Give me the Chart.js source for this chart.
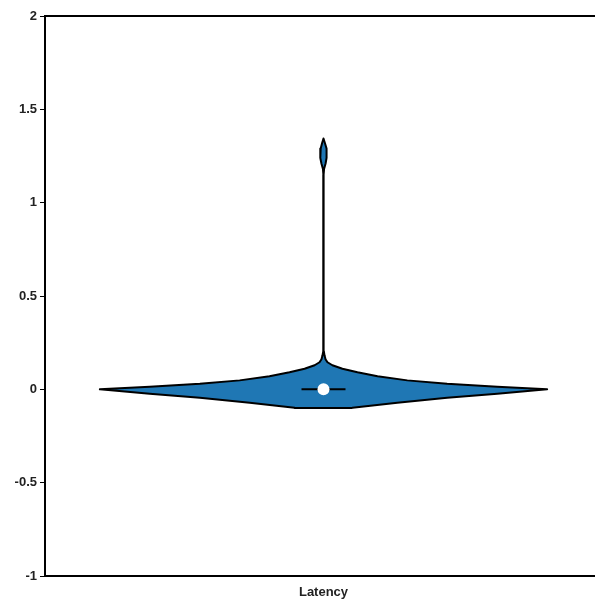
<!DOCTYPE html>
<html>
<head>
<meta charset="utf-8">
<script src="https://cdn.jsdelivr.net/npm/chart.js@4/dist/chart.umd.min.js"></script>
<style>
  html, body { margin: 0; padding: 0; overflow: hidden; background: #fff; }
</style>
</head>
<body>
<canvas id="violin" width="608" height="601"></canvas>
<script>
// categories + violin outline (value level, half width in category units)
const categories = ['Latency'];
const densityLevels = [-0.1, -0.099, -0.072, -0.0455, -0.024, 0, 0.0145, 0.0295, 0.048, 0.0696, 0.091, 0.11, 0.129, 0.145, 0.161, 0.182, 0.204, 0.5, 1.15, 1.18, 1.21, 1.24, 1.264, 1.29, 1.32, 1.344];
const densityHalfWidth = [0.104, 0.104, 0.265, 0.444, 0.624, 0.803, 0.624, 0.444, 0.301, 0.194, 0.122, 0.068, 0.032, 0.0143, 0.0072, 0.0036, 0.0012, 0.0004, 0.0004, 0.002, 0.0075, 0.011, 0.012, 0.01, 0.005, 0];
const medianValue = 0;
const boxHalfWidth = 0.079;
const yTicks = [-1, -0.5, 0, 0.5, 1, 1.5, 2];

// polygon: right side up, left side back down, closed
const rightSide = densityLevels.map((v, i) => ({ x: densityHalfWidth[i], y: v }));
const leftSide = densityLevels.map((v, i) => ({ x: -densityHalfWidth[i], y: v })).reverse();
const outline = rightSide.concat(leftSide, [rightSide[0]]);

const tickFont = { family: 'Liberation Sans, Arial, sans-serif', size: 13, weight: 'bold' };

new Chart(document.getElementById('violin'), {
    type: 'scatter',
    data: {
        datasets: [
            {
                label: 'median',
                data: [{ x: 0, y: medianValue }],
                pointRadius: 6,
                pointBackgroundColor: '#ffffff',
                pointBorderWidth: 0,
                order: 0,
            },
            {
                label: 'box',
                data: [{ x: -boxHalfWidth, y: medianValue }, { x: boxHalfWidth, y: medianValue }],
                showLine: true,
                borderColor: '#000',
                borderWidth: 2,
                pointRadius: 0,
                order: 1,
            },
            {
                label: categories[0],
                data: outline,
                showLine: true,
                fill: 'shape',
                backgroundColor: '#1f77b4',
                borderColor: '#000',
                borderWidth: 2,
                borderJoinStyle: 'round',
                pointRadius: 0,
                tension: 0,
                order: 2,
            },
        ],
    },
    options: {
        animation: false,
        responsive: false,
        layout: { padding: { top: 16, right: 0, left: 0, bottom: 0 } },
        plugins: { legend: { display: false }, tooltip: { enabled: false } },
        scales: {
            x: {
                type: 'linear',
                min: -1,
                max: 1,
                afterBuildTicks: s => { s.ticks = [{ value: 0 }]; },
                afterFit: s => { s.height = 25; },
                grid: { display: false, drawTicks: false },
                border: { display: true, color: '#000', width: 2 },
                ticks: {
                    padding: 9,
                    color: '#222',
                    font: tickFont,
                    callback: () => categories[0],
                },
            },
            xTop: {
                type: 'linear',
                position: 'top',
                afterFit: s => { s.height = 0; },
                grid: { display: false, drawTicks: false },
                ticks: { display: false },
                border: { display: true, color: '#000', width: 2 },
            },
            y: {
                min: -1,
                max: 2,
                afterBuildTicks: s => { s.ticks = yTicks.map(v => ({ value: v })); },
                afterFit: s => { s.width = 45; },
                grid: { drawOnChartArea: false, drawTicks: true, tickLength: 5, tickColor: '#000' },
                border: { display: true, color: '#000', width: 2 },
                ticks: { padding: 3, color: '#222', font: tickFont, callback: v => String(v) },
            },
        },
    },
});
</script>
</body>
</html>
